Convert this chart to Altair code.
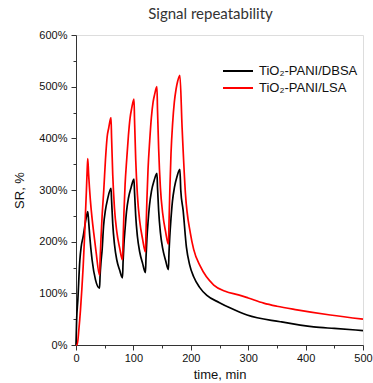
import altair as alt
import pandas as pd

# ---- data ----
t_dbsa = [0, 1, 3.2, 6.7, 9, 12.5, 16, 19.5, 20.5,
          22, 24, 28, 34, 41,
          42, 43.5, 45.5, 48, 51.3, 55, 61,
          62, 64, 67, 71, 76, 81,
          82, 83.5, 85.5, 88, 91.5, 96, 101,
          102, 104, 107, 111, 116, 121,
          122, 123.5, 125.5, 128, 131.5, 136, 141,
          142, 144, 147, 151, 156, 161,
          162, 163.5, 165.5, 168, 171.5, 176, 181,
          182.5, 186.6, 192.3, 198, 205, 215, 228, 250, 270, 298, 356, 414, 450, 500]
v_dbsa = [0, 45, 87, 164, 190, 210, 235, 255, 258,
          240, 210, 165, 126, 110,
          135, 160, 184, 230, 261, 282, 303,
          280, 235, 195, 165, 145, 130,
          160, 195, 225, 258, 285, 305, 321,
          295, 250, 210, 180, 158, 140,
          170, 205, 238, 270, 298, 318, 332,
          305, 260, 218, 187, 164, 146,
          178, 212, 245, 278, 305, 326, 340,
          300, 261, 190, 155, 132, 112, 96, 82, 71, 58, 45, 35, 32, 28]

t_lsa = [0, 2, 5, 7.8, 10, 12.5, 14.5, 16.5, 18, 19.5, 20.5,
         22, 25, 28, 31, 35, 41,
         42, 43.5, 45.5, 48.4, 51.3, 54.3, 57, 61,
         62, 64, 67, 71, 76, 81,
         82, 83.5, 85.5, 88.4, 91.3, 94.3, 97, 101,
         102, 104, 107, 111, 116, 121,
         122, 123.5, 125.5, 128.4, 131.3, 134.3, 137, 141,
         142, 144, 147, 151, 156, 161,
         162, 163.5, 165.5, 168.4, 171.3, 174.3, 177, 181,
         184.8, 190.6, 199.3, 205, 216.7, 240, 260, 283, 300, 327, 350, 385, 443, 500]
v_lsa = [0, 0, 30, 68, 105, 152, 200, 255, 295, 339, 361,
         330, 281, 245, 216, 180, 135,
         165, 205, 250, 300, 358, 403, 420, 440,
         400, 330, 265, 220, 188, 165,
         200, 255, 310, 360, 405, 440, 458, 476,
         435, 360, 290, 240, 205, 180,
         220, 280, 340, 395, 440, 470, 485, 500,
         455, 380, 305, 255, 220, 195,
         235, 300, 370, 430, 470, 495, 510, 522,
         422, 294, 216, 185, 152, 116, 104, 97, 91, 81, 75, 68, 58, 50]

series_names = ["TiO\u2082-PANI/DBSA", "TiO\u2082-PANI/LSA"]
series_colors = ["#000000", "#ff0000"]
y_ticks = [0, 50, 100, 150, 200, 250, 300, 350, 400, 450, 500, 550, 600]
x_ticks = [0, 50, 100, 150, 200, 250, 300, 350, 400, 450, 500]

rows = []
for t, v in zip(t_dbsa, v_dbsa):
    rows.append({"time": t, "SR": v, "series": series_names[0]})
for t, v in zip(t_lsa, v_lsa):
    rows.append({"time": t, "SR": v, "series": series_names[1]})
df = pd.DataFrame(rows)

FONT = "Liberation Sans"

chart = alt.Chart(df).mark_line(strokeWidth=1.7, interpolate="monotone").encode(
    x=alt.X("time:Q",
            scale=alt.Scale(domain=[0, 500], nice=False),
            axis=alt.Axis(values=x_ticks, title="time, min",
                          labelExpr="datum.value % 100 === 0 ? datum.label : ''",
                          tickSize=alt.ExprRef(expr="datum.value % 100 === 0 ? 5 : 3"),
                          grid=False, labelFontSize=11, titleFontSize=13,
                          labelFont=FONT, titleFont=FONT, titleFontWeight="normal",
                          labelColor="#111111", titleColor="#111111",
                          domainColor="#333333", tickColor="#333333",
                          labelPadding=2, titlePadding=5, labelFlush=False)),
    y=alt.Y("SR:Q",
            scale=alt.Scale(domain=[0, 600], nice=False),
            axis=alt.Axis(values=y_ticks, title="SR, %",
                          labelExpr="datum.value % 100 === 0 ? datum.value + '%' : ''",
                          tickSize=alt.ExprRef(expr="datum.value % 100 === 0 ? 5 : 3"),
                          grid=False, labelFontSize=11, titleFontSize=13,
                          labelFont=FONT, titleFont=FONT, titleFontWeight="normal",
                          labelColor="#111111", titleColor="#111111",
                          domainColor="#333333", tickColor="#333333",
                          labelPadding=4, titlePadding=12)),
    color=alt.Color("series:N",
                    scale=alt.Scale(domain=series_names, range=series_colors),
                    legend=alt.Legend(title=None, orient="none", legendX=146, legendY=29,
                                      symbolType="stroke", symbolSize=900,
                                      symbolStrokeWidth=1.8, labelFont=FONT,
                                      labelFontSize=13, labelColor="#111111",
                                      labelOffset=5, clipHeight=14, rowPadding=3,
                                      padding=0)),
).properties(
    width=287, height=310,
    title=alt.TitleParams("Signal repeatability", font="Lato", fontSize=15,
                          fontWeight="normal", color="#333333", anchor="middle",
                          dx=-9, offset=7),
    autosize=alt.AutoSizeParams(type="none"),
    padding={"left": 76, "top": 35, "right": 10, "bottom": 38},
).configure_view(strokeWidth=0).configure(background="white")

chart.save("out.html", embed_options={"renderer": "svg", "actions": False})
